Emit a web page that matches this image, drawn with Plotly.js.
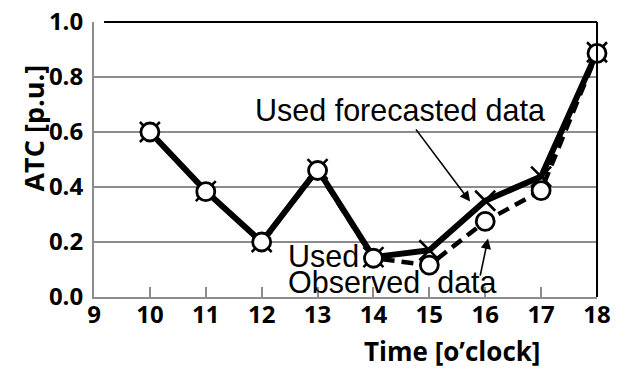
<!DOCTYPE html>
<html>
<head>
<meta charset="utf-8">
<script src="https://cdn.plot.ly/plotly-3.0.1.min.js"></script>
<style>html,body{margin:0;padding:0;background:#fff;}#chart{width:627px;height:370px;}</style>
</head>
<body>
<div id="chart"></div>
<script>
// Data
const hours = [10, 11, 12, 13, 14, 15, 16, 17, 18];
const forecastATC = [0.60, 0.385, 0.20, 0.465, 0.145, 0.17, 0.35, 0.438, 0.89];
const observedATC = [0.60, 0.383, 0.20, 0.460, 0.141, 0.116, 0.275, 0.387, 0.886];
const xTicks = [9, 10, 11, 12, 13, 14, 15, 16, 17, 18];
const yTicks = [0.0, 0.2, 0.4, 0.6, 0.8, 1.0];
const forecastLabel = 'Used forecasted data';
const usedLabel = 'Used';
const observedLabel = 'Observed\u00a0\u00a0data';
const xTitle = 'Time [o\u2019clock]';
const yTitle = 'ATC [p.u.]';

const traces = [
  { x: hours, y: observedATC, mode: 'lines', type: 'scatter', cliponaxis: false,
    line: { color: '#000', width: 4.5, dash: '12px,7px' }, hoverinfo: 'skip' },
  { x: hours, y: forecastATC, mode: 'lines+markers', type: 'scatter', cliponaxis: false,
    line: { color: '#000', width: 6 },
    marker: { symbol: 'x-thin', size: 20, line: { color: '#000', width: 2.5 } } },
  { x: hours, y: observedATC, mode: 'markers', type: 'scatter', cliponaxis: false,
    marker: { symbol: 'circle', size: 18, color: '#fff', line: { color: '#000', width: 2.8 } } }
];

const labelFont = { family: 'Liberation Sans, Arial, sans-serif', size: 30.5, color: '#000' };
const boldFont = { family: 'Open Sans, sans-serif', size: 24, color: '#000', weight: 'bold' };

const layout = {
  width: 627, height: 370,
  margin: { l: 94, r: 30, t: 22, b: 73 },
  showlegend: false,
  paper_bgcolor: '#fff', plot_bgcolor: '#fff',
  xaxis: {
    range: [9, 18], tickvals: xTicks, ticktext: xTicks.map(String),
    showgrid: false, zeroline: false,
    showline: true, linecolor: '#8c8c8c', linewidth: 2,
    ticks: 'inside', ticklen: 10, tickwidth: 2, tickcolor: '#8c8c8c',
    tickfont: boldFont, ticklabelstandoff: -5
  },
  yaxis: {
    range: [0, 1], tickvals: yTicks, ticktext: yTicks.map(v => v.toFixed(1)),
    showgrid: true, gridcolor: '#8c8c8c', gridwidth: 2, zeroline: false,
    showline: true, linecolor: '#8c8c8c', linewidth: 2,
    ticks: '', tickfont: boldFont, ticklabelstandoff: 4
  },
  shapes: [
    { type: 'line', xref: 'paper', yref: 'paper', x0: 0.02, x1: 1, y0: 1, y1: 1, line: { color: '#000', width: 2 } },
    { type: 'line', xref: 'paper', yref: 'paper', x0: 1, x1: 1, y0: 0, y1: 1, line: { color: '#000', width: 2 } }
  ],
  annotations: [
    { text: forecastLabel, xref: 'x', yref: 'y', x: 11.84, y: 0.68, xanchor: 'left', yanchor: 'middle',
      showarrow: false, font: labelFont },
    { text: '', xref: 'x', yref: 'y', x: 15.73, y: 0.347, axref: 'x', ayref: 'y', ax: 14.74, ay: 0.615,
      showarrow: true, arrowhead: 2, arrowsize: 1.3, arrowwidth: 1.6, arrowcolor: '#000' },
    { text: usedLabel, xref: 'x', yref: 'y', x: 12.43, y: 0.148, xanchor: 'left', yanchor: 'middle',
      showarrow: false, font: labelFont },
    { text: observedLabel, xref: 'x', yref: 'y', x: 12.43, y: 0.055, xanchor: 'left', yanchor: 'middle',
      showarrow: false, font: labelFont },
    { text: '', xref: 'x', yref: 'y', x: 16.05, y: 0.213, axref: 'x', ayref: 'y', ax: 15.905, ay: 0.072,
      showarrow: true, arrowhead: 2, arrowsize: 1.3, arrowwidth: 1.6, arrowcolor: '#000' },
    { text: xTitle, xref: 'paper', yref: 'paper', x: 0.712, y: -0.195, xanchor: 'center', yanchor: 'middle',
      showarrow: false, font: { family: 'Open Sans, sans-serif', size: 26, color: '#000', weight: 'bold' } },
    { text: yTitle, xref: 'paper', yref: 'paper', x: -0.12, y: 0.615, xanchor: 'center', yanchor: 'middle',
      textangle: -90, showarrow: false, font: { family: 'Open Sans, sans-serif', size: 27, color: '#000', weight: 'bold' } }
  ]
};

Plotly.newPlot('chart', traces, layout, { displayModeBar: false, staticPlot: true });
</script>
</body>
</html>
